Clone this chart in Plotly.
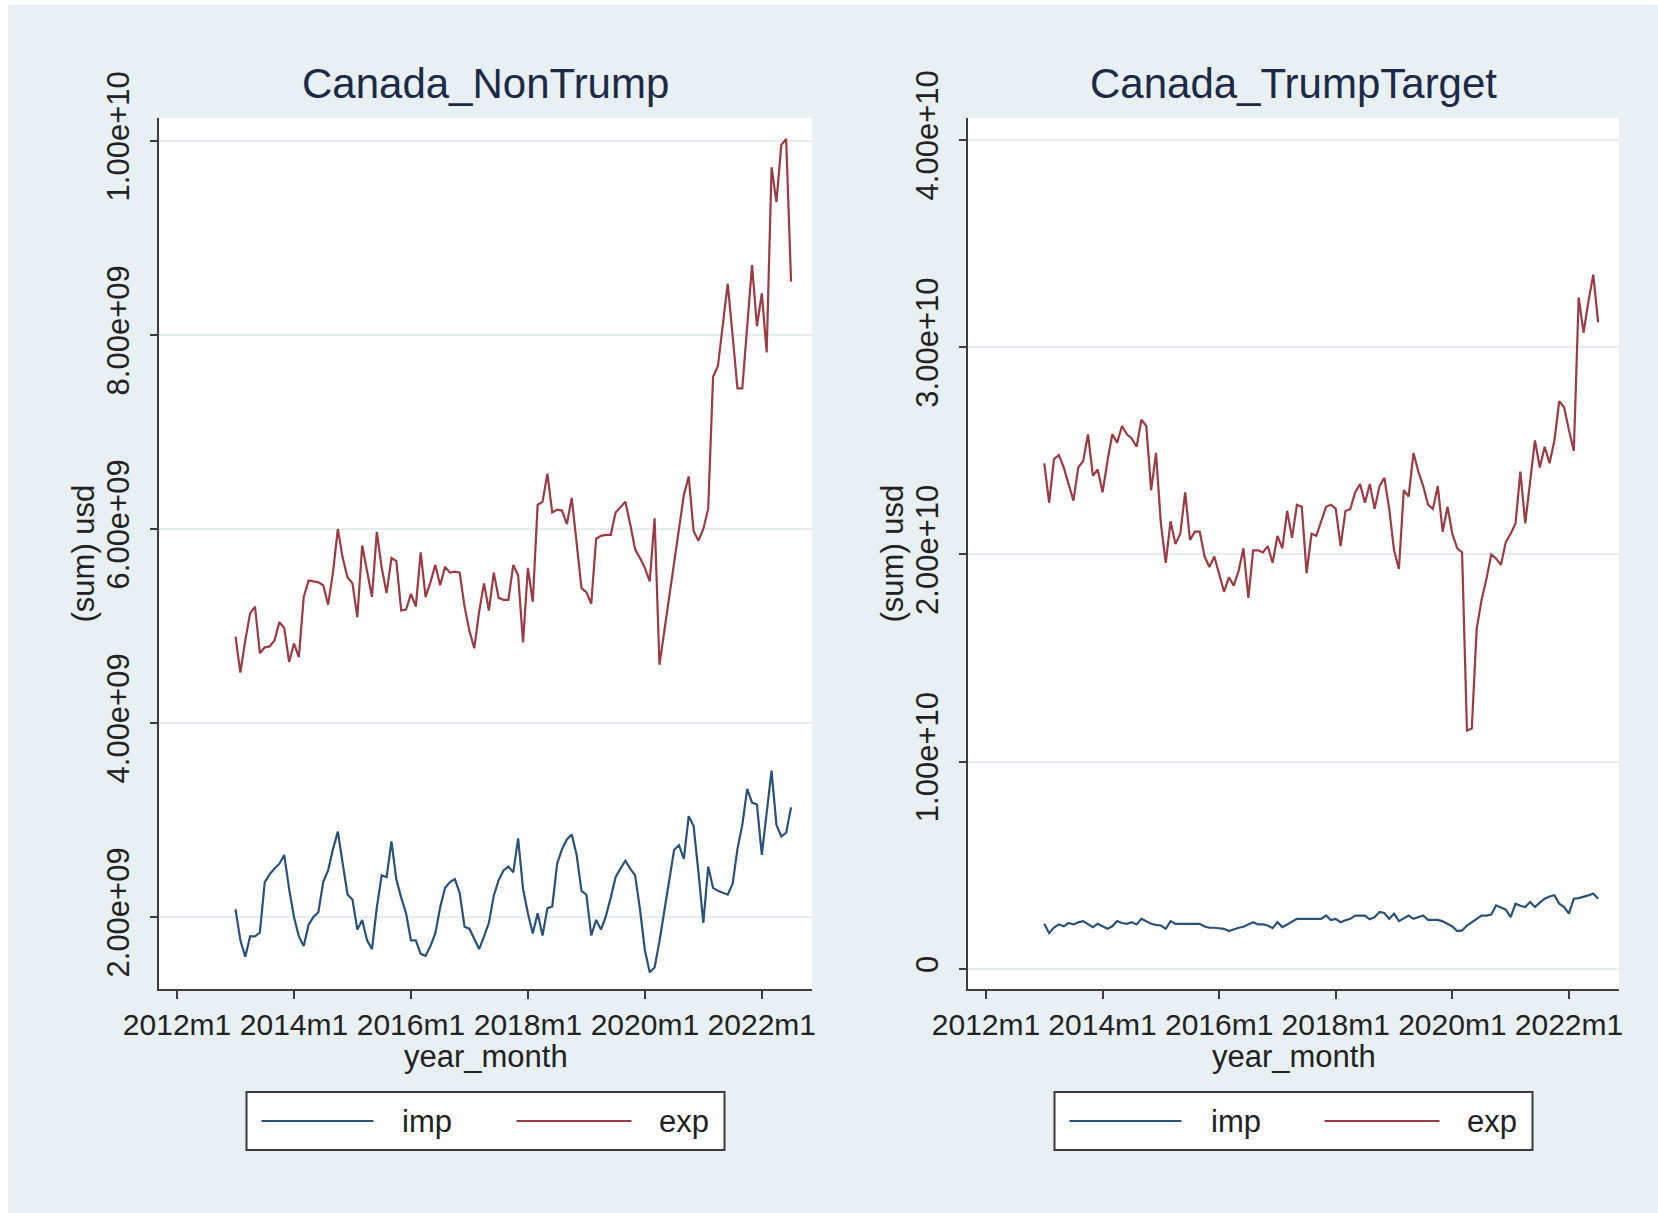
import numpy as np
import pandas as pd
import plotly.graph_objects as go

# Monthly series, 2013m1 .. 2022m7
START = "2013-01"
N_MONTHS = 115

# Canada_NonTrump, billions of USD
nontrump_imp_bn = [
    2.08, 1.76, 1.59, 1.80, 1.80, 1.84, 2.36, 2.44, 2.50, 2.55, 2.64, 2.29,
    2.00, 1.80, 1.70, 1.92, 2.00, 2.05, 2.36, 2.48, 2.70, 2.88, 2.55, 2.23,
    2.18, 1.87, 1.97, 1.76, 1.67, 2.10, 2.43, 2.41, 2.78, 2.39, 2.20, 2.04,
    1.76, 1.76, 1.62, 1.60, 1.70, 1.83, 2.10, 2.30, 2.36, 2.39, 2.25, 1.90,
    1.88, 1.78, 1.67, 1.80, 1.94, 2.22, 2.38, 2.48, 2.52, 2.46, 2.81, 2.29,
    2.04, 1.83, 2.04, 1.81, 2.09, 2.11, 2.55, 2.70, 2.80, 2.85, 2.64, 2.27,
    2.23, 1.81, 1.97, 1.87, 2.01, 2.20, 2.41, 2.50, 2.58, 2.50, 2.43, 2.08,
    1.66, 1.43, 1.48, 1.75, 2.08, 2.40, 2.69, 2.74, 2.60, 3.04, 2.94, 2.46,
    1.94, 2.52, 2.30, 2.27, 2.25, 2.23, 2.34, 2.70, 2.95, 3.32, 3.18, 3.16,
    2.64, 3.10, 3.51, 2.95, 2.83, 2.87, 3.13,
]
nontrump_exp_bn = [
    4.89, 4.52, 4.85, 5.13, 5.20, 4.72, 4.78, 4.79, 4.85, 5.04, 4.98, 4.63,
    4.82, 4.68, 5.30, 5.47, 5.46, 5.45, 5.42, 5.22, 5.55, 6.00, 5.70, 5.50,
    5.44, 5.09, 5.83, 5.55, 5.30, 5.97, 5.60, 5.34, 5.70, 5.67, 5.16, 5.17,
    5.33, 5.20, 5.76, 5.30, 5.45, 5.63, 5.42, 5.61, 5.55, 5.56, 5.55, 5.20,
    4.95, 4.77, 5.15, 5.44, 5.16, 5.55, 5.29, 5.27, 5.27, 5.63, 5.52, 4.83,
    5.60, 5.25, 6.25, 6.28, 6.57, 6.17, 6.20, 6.19, 6.05, 6.32, 5.85, 5.39,
    5.35, 5.23, 5.90, 5.93, 5.94, 5.94, 6.17, 6.22, 6.28, 6.05, 5.79, 5.70,
    5.60, 5.46, 6.11, 4.60, 4.95, 5.30, 5.60, 6.00, 6.35, 6.54, 5.98, 5.88,
    6.00, 6.21, 7.57, 7.68, 8.10, 8.53, 8.00, 7.45, 7.45, 8.10, 8.72, 8.09,
    8.43, 7.82, 9.73, 9.37, 9.96, 10.02, 8.55,
]

# Canada_TrumpTarget, tens of billions of USD
target_imp_10bn = [
    0.218, 0.173, 0.200, 0.215, 0.206, 0.222, 0.215, 0.225, 0.231, 0.218, 0.202, 0.218,
    0.205, 0.194, 0.206, 0.231, 0.222, 0.218, 0.226, 0.215, 0.242, 0.228, 0.218, 0.213,
    0.210, 0.194, 0.231, 0.218, 0.218, 0.218, 0.218, 0.218, 0.218, 0.205, 0.199, 0.199,
    0.197, 0.194, 0.183, 0.192, 0.199, 0.204, 0.215, 0.226, 0.215, 0.215, 0.210, 0.197,
    0.226, 0.202, 0.215, 0.230, 0.242, 0.242, 0.242, 0.242, 0.242, 0.242, 0.258, 0.236,
    0.242, 0.226, 0.235, 0.242, 0.258, 0.258, 0.258, 0.240, 0.250, 0.275, 0.270, 0.242,
    0.267, 0.231, 0.245, 0.258, 0.242, 0.250, 0.258, 0.237, 0.237, 0.237, 0.230, 0.218,
    0.205, 0.183, 0.186, 0.210, 0.226, 0.245, 0.258, 0.258, 0.263, 0.307, 0.295, 0.286,
    0.250, 0.315, 0.305, 0.299, 0.323, 0.299, 0.320, 0.339, 0.350, 0.356, 0.315, 0.299,
    0.267, 0.339, 0.342, 0.347, 0.355, 0.364, 0.339,
]
target_exp_10bn = [
    2.44, 2.25, 2.46, 2.48, 2.42, 2.34, 2.26, 2.42, 2.45, 2.58, 2.38, 2.41,
    2.30, 2.45, 2.58, 2.54, 2.62, 2.58, 2.56, 2.52, 2.65, 2.62, 2.31, 2.49,
    2.15, 1.96, 2.16, 2.05, 2.10, 2.30, 2.07, 2.11, 2.11, 1.99, 1.94, 1.99,
    1.90, 1.82, 1.89, 1.85, 1.92, 2.03, 1.79, 2.02, 2.02, 2.01, 2.04, 1.96,
    2.09, 2.03, 2.21, 2.08, 2.24, 2.23, 1.91, 2.10, 2.09, 2.16, 2.23, 2.24,
    2.22, 2.04, 2.21, 2.22, 2.30, 2.34, 2.25, 2.34, 2.22, 2.33, 2.37, 2.22,
    2.02, 1.93, 2.31, 2.28, 2.49, 2.40, 2.33, 2.24, 2.22, 2.33, 2.11, 2.23,
    2.10, 2.03, 2.01, 1.15, 1.16, 1.64, 1.78, 1.88, 2.00, 1.98, 1.95, 2.06,
    2.10, 2.15, 2.40, 2.15, 2.35, 2.55, 2.42, 2.52, 2.44, 2.55, 2.74, 2.71,
    2.60, 2.50, 3.24, 3.07, 3.22, 3.35, 3.12,
]

panel_titles = ["Canada_NonTrump", "Canada_TrumpTarget"]
series_names = ["imp", "exp"]

left_ytick_vals = [2e9, 4e9, 6e9, 8e9, 1e10]
left_ytick_text = ["2.00e+09", "4.00e+09", "6.00e+09", "8.00e+09", "1.00e+10"]
right_ytick_vals = [0, 1e10, 2e10, 3e10, 4e10]
right_ytick_text = ["0", "1.00e+10", "2.00e+10", "3.00e+10", "4.00e+10"]
xtick_text = ["2012m1", "2014m1", "2016m1", "2018m1", "2020m1", "2022m1"]

# Stata-style monthly date: months since 1960m1
periods = pd.period_range(START, periods=N_MONTHS, freq="M")
tm = np.array([(p.year - 1960) * 12 + p.month - 1 for p in periods])
xtick_vals = [(int(s[:4]) - 1960) * 12 for s in xtick_text]

IMP_COLOR = "#2a5278"
EXP_COLOR = "#9c3b44"
BG = "#e8f0f3"
GRID = "#e4ecef"
AXIS = "#3c3c3c"
FONT = "Liberation Sans, Arial, sans-serif"
TXT = "#222222"
TITLE_C = "#1c2a48"

W, H = 1658, 1213


def px_x(v):
    return v / W


def px_y(v):
    return 1 - v / H


fig = go.Figure()

panels = [
    dict(xa="x", ya="y",
         imp=np.array(nontrump_imp_bn) * 1e9, exp=np.array(nontrump_exp_bn) * 1e9),
    dict(xa="x2", ya="y2",
         imp=np.array(target_imp_10bn) * 1e10, exp=np.array(target_exp_10bn) * 1e10),
]
for p in panels:
    fig.add_trace(go.Scatter(x=tm, y=p["imp"], mode="lines", name=series_names[0],
                             line=dict(color=IMP_COLOR, width=2.2),
                             xaxis=p["xa"], yaxis=p["ya"], showlegend=False))
    fig.add_trace(go.Scatter(x=tm, y=p["exp"], mode="lines", name=series_names[1],
                             line=dict(color=EXP_COLOR, width=2.2),
                             xaxis=p["xa"], yaxis=p["ya"], showlegend=False))

# plot-region pixel boxes (left, right) and shared vertical extent
left_box = (159, 812)
right_box = (968, 1619)
top_px, bottom_px = 118, 989

xrange_ = [620.3, 754.3]

common_x = dict(
    range=xrange_, tickmode="array", tickvals=xtick_vals, ticktext=xtick_text,
    tickangle=0, showgrid=False, zeroline=False, showline=True,
    linecolor=AXIS, linewidth=2, ticks="outside", ticklen=8, tickwidth=2,
    tickcolor=AXIS, tickfont=dict(family=FONT, size=30, color=TXT),
    automargin=False,
)
common_y = dict(
    tickmode="array", tickangle=-90, showgrid=True, gridcolor=GRID, gridwidth=2,
    zeroline=False, showline=True, linecolor=AXIS, linewidth=2,
    ticks="outside", ticklen=7, tickwidth=2, tickcolor=AXIS,
    tickfont=dict(family=FONT, size=31, color=TXT), ticklabelstandoff=9,
    automargin=False,
)

ydom = [px_y(bottom_px), px_y(top_px)]
fig.update_layout(
    xaxis=dict(common_x, domain=[px_x(left_box[0]), px_x(left_box[1])], anchor="y"),
    xaxis2=dict(common_x, domain=[px_x(right_box[0]), px_x(right_box[1])], anchor="y2"),
    yaxis=dict(common_y, domain=ydom, anchor="x", range=[1.258e9, 1.0237e10],
               tickvals=left_ytick_vals, ticktext=left_ytick_text),
    yaxis2=dict(common_y, domain=ydom, anchor="x2", range=[-0.0965e10, 4.106e10],
                tickvals=right_ytick_vals, ticktext=right_ytick_text),
)

shapes = []
annotations = []

# thin white border at top and left of the graph region
shapes.append(dict(type="rect", xref="paper", yref="paper", x0=0, x1=1,
                   y0=px_y(5), y1=1, fillcolor="white", line=dict(width=0), layer="below"))
shapes.append(dict(type="rect", xref="paper", yref="paper", x0=0, x1=px_x(8),
                   y0=0, y1=1, fillcolor="white", line=dict(width=0), layer="below"))

for (x0, x1), title in zip([left_box, right_box], panel_titles):
    c = (x0 + x1) / 2
    annotations.append(dict(text=title, x=px_x(c), y=px_y(84), xref="paper", yref="paper",
                            showarrow=False, xanchor="center", yanchor="middle",
                            font=dict(family=FONT, size=42, color=TITLE_C)))
    annotations.append(dict(text="year_month", x=px_x(c), y=px_y(1056), xref="paper",
                            yref="paper", showarrow=False, xanchor="center",
                            yanchor="middle", font=dict(family=FONT, size=31, color=TXT)))
    annotations.append(dict(text="(sum) usd", x=px_x(x0 - 76), y=px_y((top_px + bottom_px) / 2),
                            xref="paper", yref="paper", showarrow=False, textangle=-90,
                            xanchor="center", yanchor="middle",
                            font=dict(family=FONT, size=31, color=TXT)))
    # legend box
    ly0, ly1, lyc = 1092, 1150, 1121
    shapes.append(dict(type="rect", xref="paper", yref="paper",
                       x0=px_x(c - 239), x1=px_x(c + 239), y0=px_y(ly1), y1=px_y(ly0),
                       fillcolor="white", line=dict(color="#3a3a3a", width=2)))
    for (a, b), col, name, tx in [((c - 224, c - 112), IMP_COLOR, series_names[0], c - 58),
                                  ((c + 31, c + 146), EXP_COLOR, series_names[1], c + 198)]:
        shapes.append(dict(type="line", xref="paper", yref="paper",
                           x0=px_x(a), x1=px_x(b), y0=px_y(lyc), y1=px_y(lyc),
                           line=dict(color=col, width=2.2)))
        annotations.append(dict(text=name, x=px_x(tx), y=px_y(lyc), xref="paper",
                                yref="paper", showarrow=False, xanchor="center",
                                yanchor="middle", font=dict(family=FONT, size=31, color=TXT)))

fig.update_layout(
    width=W, height=H, margin=dict(l=0, r=0, t=0, b=0, autoexpand=False),
    paper_bgcolor=BG, plot_bgcolor="white",
    shapes=shapes, annotations=annotations, showlegend=False,
)

fig.write_html("out.html")
